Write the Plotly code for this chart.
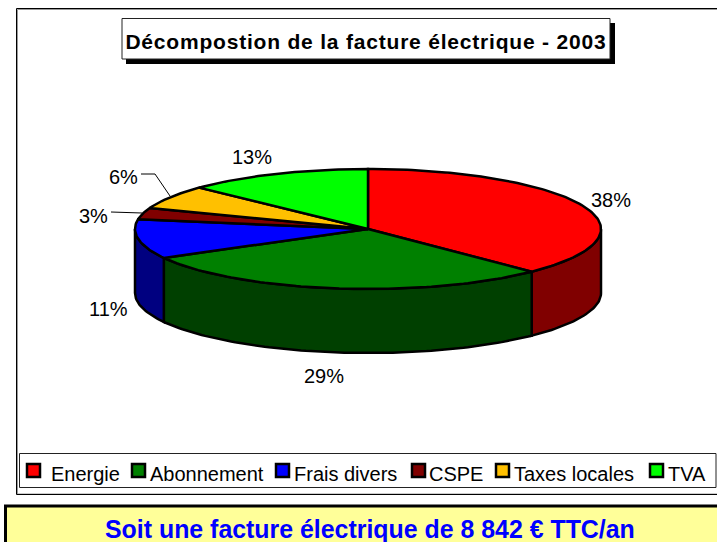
import math
import plotly.graph_objects as go

categories = ["Energie", "Abonnement", "Frais divers", "CSPE", "Taxes locales", "TVA"]
values = [37.6, 29.4, 10.6, 3.1, 6.4, 12.9]
labels = ["38%", "29%", "11%", "3%", "6%", "13%"]
top_colors = ["#FF0000", "#008000", "#0000FF", "#800000", "#FFC000", "#00FF00"]
side_colors = ["#800000", "#004000", "#000080", "#400000", "#806000", "#008000"]

W, H = 717, 542
CX, CY, RX, RY, DEPTH = 368, 229, 233, 60, 64
FONT = "Liberation Sans, Arial, sans-serif"


def pt(frac):
    a = 2 * math.pi * frac
    return CX + RX * math.sin(a), CY - RY * math.cos(a)


fig = go.Figure()
total = sum(values)
cum = 0.0
spans = []
for v in values:
    spans.append((cum / total, (cum + v) / total))
    cum += v

# side walls (front half of the disc only)
for (a, b), name, col in zip(spans, categories, side_colors):
    s, e = max(a, 0.25), min(b, 0.75)
    if e <= s:
        continue
    n = max(4, int((e - s) * 300))
    arc = [pt(s + (e - s) * i / n) for i in range(n + 1)]
    xs = [p[0] for p in arc] + [p[0] for p in reversed(arc)] + [arc[0][0]]
    ys = [p[1] for p in arc] + [p[1] + DEPTH for p in reversed(arc)] + [arc[0][1]]
    fig.add_trace(go.Scatter(x=xs, y=ys, mode="lines", fill="toself", fillcolor=col,
                             line=dict(color="black", width=2.5), hoverinfo="skip",
                             name=name + " (côté)", showlegend=False))

# top faces
for (a, b), name, col in zip(spans, categories, top_colors):
    n = max(4, int((b - a) * 300))
    arc = [pt(a + (b - a) * i / n) for i in range(n + 1)]
    xs = [CX] + [p[0] for p in arc] + [CX]
    ys = [CY] + [p[1] for p in arc] + [CY]
    fig.add_trace(go.Scatter(x=xs, y=ys, mode="lines", fill="toself", fillcolor=col,
                             line=dict(color="black", width=2.5), name=name, showlegend=False))

shapes = [
    # outer chart frame
    dict(type="rect", x0=17.5, y0=9.5, x1=730, y1=494, line=dict(color="#999999", width=1), layer="below"),
    dict(type="rect", x0=16.5, y0=8.5, x1=730, y1=494.5, line=dict(color="black", width=1), layer="below"),
    # title shadow and box
    dict(type="rect", x0=126, y0=23, x1=615, y1=64, fillcolor="black", line=dict(width=0), layer="below"),
    dict(type="rect", x0=122, y0=18.5, x1=610, y1=59, fillcolor="white", line=dict(color="#222", width=1), layer="below"),
    # legend box
    dict(type="rect", x0=19.5, y0=453.5, x1=716, y1=487.5, fillcolor="white", line=dict(color="#222222", width=1), layer="below"),
    # bottom banner
    dict(type="rect", x0=5.5, y0=506, x1=730, y1=560, fillcolor="#FFFF99", line=dict(color="black", width=3), layer="below"),
    # leader lines
    dict(type="path", path="M 141 174 L 155 174 L 170 196", line=dict(color="black", width=1)),
    dict(type="path", path="M 111 212 L 142 213", line=dict(color="black", width=1)),
]

legend_text_x = [49, 148, 292, 427, 512, 666]
for sx, col in zip([27, 132, 276, 412, 496, 650], top_colors):
    shapes.append(dict(type="rect", x0=sx, y0=464, x1=sx + 13, y1=477, fillcolor=col,
                       line=dict(color="black", width=2.5)))

annotations = []


def text(x, y, s, size, color="black", bold=False, anchor="left"):
    annotations.append(dict(x=x, y=y, xref="x", yref="y", text=f"<b>{s}</b>" if bold else s,
                            showarrow=False, xanchor=anchor, yanchor="middle",
                            font=dict(family=FONT, size=size, color=color)))


text(366, 41, "Décompostion de la facture électrique - 2003", 21, bold=True, anchor="center")
for (x, y), s in zip([(611, 200), (324, 376), (108, 309), (93, 216), (123, 177), (252, 157)], labels):
    text(x, y, s, 20, anchor="center")
for x, s in zip(legend_text_x, categories):
    text(x, 474, s, 20)
text(370, 529, "Soit une facture électrique de 8 842 € TTC/an", 24.9, color="#0000FF", bold=True, anchor="center")

fig.update_layout(
    width=W, height=H, autosize=False,
    margin=dict(l=0, r=0, t=0, b=0),
    paper_bgcolor="white", plot_bgcolor="white",
    xaxis=dict(range=[0, W], visible=False, fixedrange=True),
    yaxis=dict(range=[H, 0], visible=False, fixedrange=True),
    shapes=shapes, annotations=annotations, showlegend=False,
)
post = """
document.body.style.margin = '0';
document.body.style.overflow = 'hidden';
var t = document.querySelector('.annotation-text');
if (t) { t.style.letterSpacing = '0.8px'; }
"""
fig.write_html("out.html", config={"displayModeBar": False}, post_script=post)
